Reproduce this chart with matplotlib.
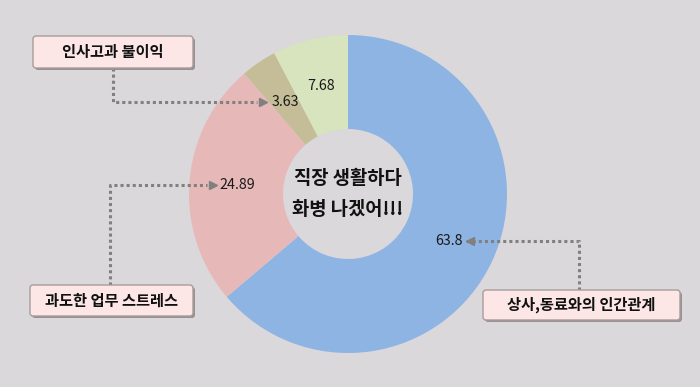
import numpy as np
import matplotlib.pyplot as plt
from matplotlib.patches import FancyBboxPatch

plt.rcParams['font.family'] = ['Noto Sans CJK KR', 'DejaVu Sans']

values = [63.8, 24.89, 3.63, 7.68]
value_labels = ['63.8', '24.89', '3.63', '7.68']
colors = ['#8EB4E3', '#E6B9B8', '#C4BD97', '#D7E4BD']
center_title = '직장 생활하다\n화병 나겠어!!!'

W, H = 700, 387
cx, cy = 348, 194
R = 159
ring = 94


def py(y):
    # pixel-from-top to axes coords
    return H - y


fig = plt.figure(figsize=(7, 3.87), dpi=100)
fig.patch.set_facecolor('#DAD8DA')
ax = fig.add_axes([0, 0, 1, 1])
ax.set_facecolor('#DAD8DA')

wedges, _ = ax.pie(values, colors=colors, startangle=90, counterclock=False,
                   radius=R, center=(cx, py(cy)),
                   wedgeprops=dict(width=ring, linewidth=0))

# value labels at the middle of each wedge
label_pos = []
for w, txt in zip(wedges, value_labels):
    ang = np.deg2rad((w.theta1 + w.theta2) / 2)
    lx = cx + 0.70 * R * np.cos(ang)
    ly = py(cy) + 0.70 * R * np.sin(ang)
    label_pos.append((lx, ly))
    ax.text(lx, ly, txt, ha='center', va='center', fontsize=10.3, color='#1a1a1a')

ax.text(cx, py(cy), center_title, ha='center', va='center', fontsize=13.5,
        fontweight='bold', linespacing=1.75, color='#111111')

# callout boxes: (text, x0, y0, x1, y1) in pixels from top-left
boxes = [
    ('인사고과 불이익', 33, 36, 193, 68),
    ('과도한 업무 스트레스', 30, 285, 193, 316),
    ('상사,동료와의 인간관계', 483, 290, 680, 320),
]
for txt, x0, y0, x1, y1 in boxes:
    shadow = FancyBboxPatch((x0 + 2, py(y1) - 2), x1 - x0, y1 - y0,
                            boxstyle='round,pad=0,rounding_size=3',
                            facecolor='#9a9090', edgecolor='none', zorder=3)
    ax.add_patch(shadow)
    box = FancyBboxPatch((x0, py(y1)), x1 - x0, y1 - y0,
                         boxstyle='round,pad=0,rounding_size=3',
                         facecolor='#FCE6E6', edgecolor='#A89C9C',
                         linewidth=1, zorder=4)
    ax.add_patch(box)
    ax.text((x0 + x1) / 2, py((y0 + y1) / 2), txt, ha='center', va='center',
            fontsize=11, fontweight='bold', color='#111111', zorder=5)

# dotted leader lines: (corner x, box edge y, target index, arrow tip x)
leaders = [
    (113, 68, 2, 263),
    (110, 285, 1, 213),
    (579, 290, 0, 470),
]
for lx, ly, idx, tipx in leaders:
    ty = label_pos[idx][1]
    ax.plot([lx, lx, tipx - 6], [py(ly), ty, ty], color='#808080',
            linestyle=(0, (1, 1)), linewidth=2.2, zorder=2)
    mk = '>' if tipx > lx else '<'
    ax.plot([tipx], [ty], marker=mk, color='#808080', markersize=6, zorder=2)

ax.set_xlim(0, W)
ax.set_ylim(0, H)
ax.set_aspect('auto')
ax.axis('off')

fig.savefig('out.png', dpi=100, facecolor=fig.get_facecolor())
